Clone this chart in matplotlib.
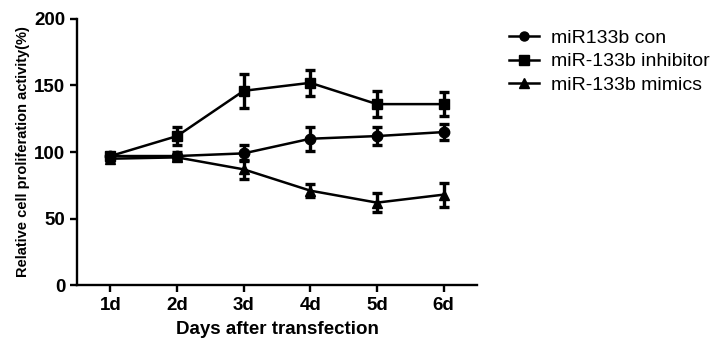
import numpy as np
import matplotlib
matplotlib.use("Agg")
import matplotlib.pyplot as plt
from matplotlib.lines import Line2D

plt.rcParams['font.family'] = ['Liberation Sans', 'DejaVu Sans']

# days after transfection
days = ['1d', '2d', '3d', '4d', '5d', '6d']

# relative proliferation (%) and error (SD) per group
con_mean = [97, 97, 99, 110, 112, 115]
con_err = [2, 3, 6, 9, 7, 6]
inh_mean = [97, 112, 146, 152, 136, 136]
inh_err = [2, 7, 13, 10, 10, 9]
mim_mean = [95, 96, 87, 71, 62, 68]
mim_err = [2, 2, 7, 5, 7, 9]

labels = ['miR133b con', 'miR-133b inhibitor', 'miR-133b mimics']
markers = ['o', 's', '^']

fig = plt.figure(figsize=(7.28, 3.44), dpi=100)
ax = fig.add_axes([0.106, 0.171, 0.549, 0.774])

x = np.arange(1, len(days) + 1)
for mean, err, m in zip([con_mean, inh_mean, mim_mean],
                        [con_err, inh_err, mim_err], markers):
    ax.errorbar(x, mean, yerr=err, color='black', marker=m, markersize=7.5,
                linewidth=1.8, elinewidth=2.4, capsize=3.8, capthick=2.4)

ax.set_xlim(0.5, 6.5)
ax.set_ylim(0, 200)
ax.set_xticks(x)
ax.set_xticklabels(days)
ax.set_yticks([0, 50, 100, 150, 200])

for side in ['top', 'right']:
    ax.spines[side].set_visible(False)
for side in ['left', 'bottom']:
    ax.spines[side].set_linewidth(1.7)
ax.tick_params(axis='both', direction='out', width=1.7, length=5,
               labelsize=13.5)
for t in ax.get_xticklabels() + ax.get_yticklabels():
    t.set_fontweight('bold')

ax.set_xlabel('Days after transfection', fontsize=13.5, fontweight='bold',
              labelpad=5)
ax.set_ylabel('Relative cell proliferation activity(%)', fontsize=10.5,
              fontweight='bold', labelpad=3)

# legend shows line + marker only
handles = [Line2D([], [], color='black', marker=m, markersize=6.5,
                  linewidth=1.8) for m in markers]
fig.legend(handles=handles, labels=labels, loc='upper left',
           bbox_to_anchor=(0.675, 0.965), frameon=False, fontsize=14,
           handlelength=1.55, handletextpad=0.6, labelspacing=0.29)

fig.savefig('out.png', dpi=100)
